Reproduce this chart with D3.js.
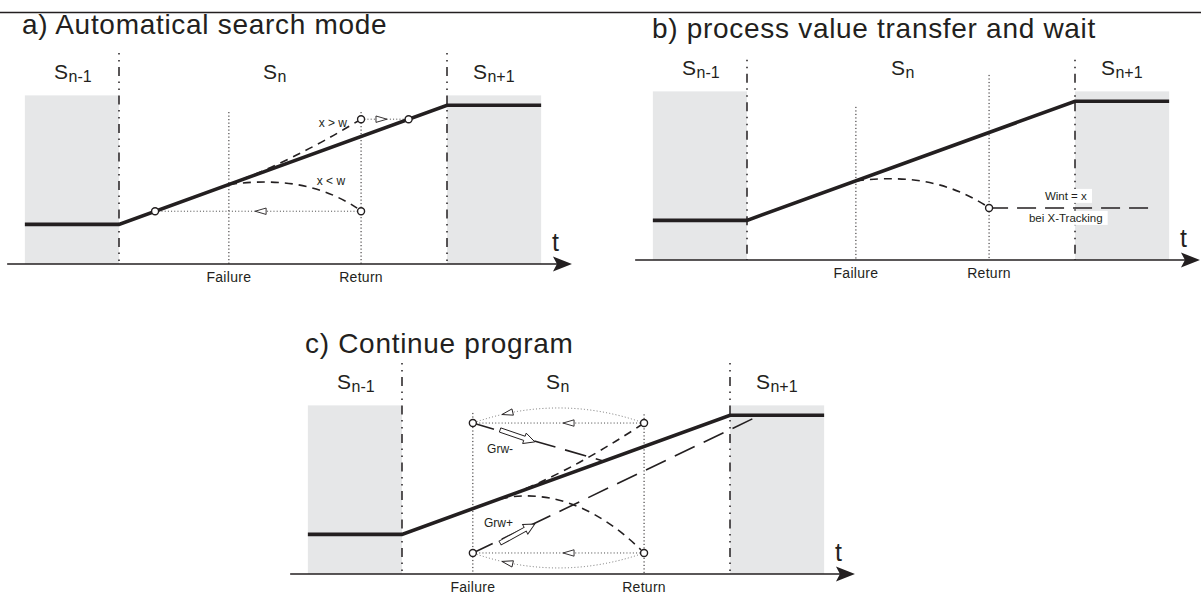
<!DOCTYPE html>
<html><head><meta charset="utf-8">
<script src="https://cdn.jsdelivr.net/npm/d3@7"></script>
<style>
body{margin:0;background:#fff}
svg{display:block}
text{font-family:"Liberation Sans",Arial,Helvetica,sans-serif;fill:#231f20}
</style>
</head><body>
<svg id="chart" width="1201" height="594"></svg>
<script>
// ---------------- data (time units: state S_n runs 0..10; value units: setpoint 20 -> 80) ----------------
const panelIds = ["a", "b", "c"];
const panelTitles = ["a) Automatical search mode", "b) process value transfer and wait", "c) Continue program"];
const stateNames = [["S", "n-1"], ["S", "n"], ["S", "n+1"]];
const stateLabelTimes = [-1.98, 4.39, 10.79];
const stateLabelValue = 93.3;
const profileTimes = [-2.87, 0, 10, 12.87];
const profileValues = [20, 20, 80, 80];
const segmentBounds = [0, 10];
const shadedSpans = [[-2.87, 0], [10, 12.87]];
const shadeTop = 85;
const axisSpan = [-3.41, 13.81];
const eventNames = ["Failure", "Return"];
const failureTimes = [3.35, 3.32, 2.16];
const returnTimes = [7.38, 7.38, 7.38];
const failureLineTops = [76.6, 77.2, 81.2];
const returnLineTops = [76.6, 93.3, 80.5];
const boundaryTops = [106.4, 101, 106.4];

// panel a
const circlesA = [[1.10, 26.6], [7.38, 26.6], [7.38, 73], [8.83, 73]];
const dottedA = [[[1.10, 26.6], [7.38, 26.6]], [[7.38, 73], [8.83, 73]]];
const dottedArrowsA = [[4.15, 26.6, -1], [8.17, 73, 1]];
const dashCurvesA = [
  [[3.35, 40.1], [5.21, 51.3], [7.29, 72.1]],
  [[3.35, 40.1], [4.91, 43.4], [6.13, 40.3], [7.26, 28.2]]
];
const notesA = [["x > w", 6.52, 69.1], ["x < w", 6.46, 39.8]];

// panel b
const circlesB = [[7.38, 26.2]];
const dashCurvesB = [[[3.32, 39.9], [4.87, 42.9], [6.09, 39.9], [7.28, 27.4]]];
const longDashB = [[[7.38, 26.2], [12.47, 26.2]]];
const boxedNotesB = [["Wint = x", 9.72, 30.3], ["bei X-Tracking", 9.72, 19.2]];

// panel c
const circlesC = [[2.16, 76.1], [7.38, 76.1], [2.16, 10.6], [7.38, 10.6]];
const dottedC = [[[2.16, 76.1], [7.38, 76.1]], [[2.16, 10.6], [7.38, 10.6]]];
const dottedArcsC = [[[7.38, 76.1], [4.77, 91.3], [2.16, 76.1]], [[7.38, 10.6], [4.77, -4.5], [2.16, 10.6]]];
const arcArrowParamC = 0.83;
const dottedArrowsC = [[4.91, 76.1, -1], [4.91, 10.6, -1]];
const dashCurvesC = [
  [[2.99, 37.9], [4.97, 49.8], [7.29, 75.1]],
  [[2.99, 37.9], [4.21, 42.4], [5.73, 37.3], [7.29, 12.1]]
];
const longDashC = [[[2.16, 76.1], [6.13, 57.0]], [[2.16, 10.6], [10.91, 80]]];
const hollowArrowsC = [[[2.99, 72.6], [4.05, 66.6]], [[2.99, 15.6], [4.05, 25.2]]];
const notesC = [["Grw-", 2.99, 61.0], ["Grw+", 2.94, 23.7]];

const panelMarks = [
  {circles: circlesA, dotted: dottedA, dottedArrows: dottedArrowsA, arcs: [], curves: dashCurvesA, longDash: [], hollow: [], notes: notesA, boxed: []},
  {circles: circlesB, dotted: [], dottedArrows: [], arcs: [], curves: dashCurvesB, longDash: longDashB, hollow: [], notes: [], boxed: boxedNotesB},
  {circles: circlesC, dotted: dottedC, dottedArrows: dottedArrowsC, arcs: dottedArcsC, curves: dashCurvesC, longDash: longDashC, hollow: hollowArrowsC, notes: notesC, boxed: []}
];

// ---------------- layout ----------------
const layout = [
  {bx: 119, ay: 264, tx: 22, ty: 34},
  {bx: 747, ay: 260, tx: 652, ty: 38},
  {bx: 402, ay: 574, tx: 305, ty: 353}
];
const INK = "#231f20";
const svg = d3.select("#chart");

svg.append("line").attr("x1", 0).attr("x2", 1201).attr("y1", 12.5).attr("y2", 12.5)
  .attr("stroke", INK).attr("stroke-width", 1.5);

function triangle(g, px, py, angle) {
  g.append("path")
    .attr("d", "M0,0 L-11,-3.2 L-11,3.2 Z")
    .attr("transform", `translate(${px},${py}) rotate(${angle})`)
    .attr("fill", "#fff").attr("stroke", INK).attr("stroke-width", 0.9);
}

panelIds.forEach((id, i) => {
  const L = layout[i];
  const M = panelMarks[i];
  const x = d3.scaleLinear().domain([0, 10]).range([L.bx, L.bx + 328]);
  const y = d3.scaleLinear().domain([0, 80]).range([L.ay, L.ay - 158.7]);
  const g = svg.append("g").attr("class", "panel-" + id);

  g.selectAll("rect.shade").data(shadedSpans).join("rect").attr("class", "shade")
    .attr("x", d => x(d[0])).attr("width", d => x(d[1]) - x(d[0]))
    .attr("y", y(shadeTop)).attr("height", y(0) - y(shadeTop))
    .attr("fill", "#e6e7e8");

  g.selectAll("line.bound").data(segmentBounds).join("line").attr("class", "bound")
    .attr("x1", d => x(d)).attr("x2", d => x(d))
    .attr("y1", y(boundaryTops[i])).attr("y2", y(0))
    .attr("stroke", INK).attr("stroke-width", 1.5)
    .attr("stroke-dasharray", "1.5,5.5,1.5,5.5,9,5.5");

  const ev = [[failureTimes[i], failureLineTops[i]], [returnTimes[i], returnLineTops[i]]];
  g.selectAll("line.ev").data(ev).join("line").attr("class", "ev")
    .attr("x1", d => x(d[0])).attr("x2", d => x(d[0]))
    .attr("y1", d => y(d[1])).attr("y2", y(0))
    .attr("stroke", INK).attr("stroke-width", 1).attr("stroke-dasharray", "1.2,2.3");
  g.selectAll("text.ev").data(ev).join("text").attr("class", "ev")
    .attr("x", d => x(d[0])).attr("y", y(0) + 18)
    .attr("text-anchor", "middle").attr("font-size", 14).attr("letter-spacing", 0.3)
    .text((d, k) => eventNames[k]);

  g.append("line").attr("x1", x(axisSpan[0])).attr("x2", x(axisSpan[1]) - 8)
    .attr("y1", y(0)).attr("y2", y(0)).attr("stroke", INK).attr("stroke-width", 1.5);
  const tip = x(axisSpan[1]), ay = y(0);
  g.append("path")
    .attr("d", `M${tip},${ay} L${tip - 19},${ay - 7.5} L${tip - 15},${ay} L${tip - 19},${ay + 7.5} Z`)
    .attr("fill", INK);
  g.append("text").attr("x", L.bx + 433).attr("y", L.ay - 13)
    .attr("font-size", 25).text("t");

  M.dotted.forEach(seg => {
    g.append("line").attr("x1", x(seg[0][0])).attr("y1", y(seg[0][1]))
      .attr("x2", x(seg[1][0])).attr("y2", y(seg[1][1]))
      .attr("stroke", "#444").attr("stroke-width", 1).attr("stroke-dasharray", "1,2.2");
  });
  M.arcs.forEach(a => {
    const p = d3.path();
    p.moveTo(x(a[0][0]), y(a[0][1]));
    p.quadraticCurveTo(x(a[1][0]), y(a[1][1]), x(a[2][0]), y(a[2][1]));
    g.append("path").attr("d", p.toString()).attr("fill", "none")
      .attr("stroke", "#666").attr("stroke-width", 0.9).attr("stroke-dasharray", "1,2.2");
    const s = arcArrowParamC;
    const P = a.map(q => [x(q[0]), y(q[1])]);
    const bx = (1 - s) * (1 - s) * P[0][0] + 2 * s * (1 - s) * P[1][0] + s * s * P[2][0];
    const by = (1 - s) * (1 - s) * P[0][1] + 2 * s * (1 - s) * P[1][1] + s * s * P[2][1];
    const dx = 2 * (1 - s) * (P[1][0] - P[0][0]) + 2 * s * (P[2][0] - P[1][0]);
    const dy = 2 * (1 - s) * (P[1][1] - P[0][1]) + 2 * s * (P[2][1] - P[1][1]);
    triangle(g, bx, by, Math.atan2(dy, dx) * 180 / Math.PI);
  });
  M.dottedArrows.forEach(d => triangle(g, x(d[0]), y(d[1]), d[2] > 0 ? 0 : 180));

  M.curves.forEach(c => {
    const p = d3.path();
    p.moveTo(x(c[0][0]), y(c[0][1]));
    if (c.length === 3) p.quadraticCurveTo(x(c[1][0]), y(c[1][1]), x(c[2][0]), y(c[2][1]));
    else p.bezierCurveTo(x(c[1][0]), y(c[1][1]), x(c[2][0]), y(c[2][1]), x(c[3][0]), y(c[3][1]));
    g.append("path").attr("d", p.toString()).attr("fill", "none")
      .attr("stroke", INK).attr("stroke-width", 1.6).attr("stroke-dasharray", "8,6");
  });
  M.longDash.forEach(seg => {
    g.append("line").attr("x1", x(seg[0][0])).attr("y1", y(seg[0][1]))
      .attr("x2", x(seg[1][0])).attr("y2", y(seg[1][1]))
      .attr("stroke", INK).attr("stroke-width", 1.6).attr("stroke-dasharray", i === 1 ? "19,9" : "22,10");
  });

  M.boxed.forEach(n => {
    const t = g.append("text").attr("x", x(n[1])).attr("y", y(n[2]))
      .attr("text-anchor", "middle").attr("font-size", 11.5).text(n[0]);
    const bb = t.node().getBBox();
    g.insert("rect", () => t.node())
      .attr("x", bb.x - 3).attr("y", bb.y - 1).attr("width", bb.width + 8).attr("height", bb.height + 2)
      .attr("fill", "#fff");
  });

  const line = d3.line().x(d => x(d[0])).y(d => y(d[1]));
  g.append("path").attr("d", line(profileTimes.map((t, k) => [t, profileValues[k]])))
    .attr("fill", "none").attr("stroke", INK).attr("stroke-width", 3.6).attr("stroke-linejoin", "miter");

  M.hollow.forEach(h => {
    const x1 = x(h[0][0]), y1 = y(h[0][1]), x2 = x(h[1][0]), y2 = y(h[1][1]);
    const len = Math.hypot(x2 - x1, y2 - y1), ang = Math.atan2(y2 - y1, x2 - x1) * 180 / Math.PI;
    const hl = 11, sw = 2.2, hw = 5.5;
    g.append("path")
      .attr("d", `M0,${-sw} L${len - hl},${-sw} L${len - hl},${-hw} L${len},0 L${len - hl},${hw} L${len - hl},${sw} L0,${sw} Z`)
      .attr("transform", `translate(${x1},${y1}) rotate(${ang})`)
      .attr("fill", "#fff").attr("stroke", INK).attr("stroke-width", 0.9);
  });

  M.notes.forEach(n => {
    g.append("text").attr("x", x(n[1])).attr("y", y(n[2]))
      .attr("text-anchor", "middle").attr("font-size", 12).attr("fill", "#333").text(n[0]);
  });

  g.selectAll("circle").data(M.circles).join("circle")
    .attr("cx", d => x(d[0])).attr("cy", d => y(d[1])).attr("r", 3.5)
    .attr("fill", "#fff").attr("stroke", INK).attr("stroke-width", 1.4);

  stateNames.forEach((s, k) => {
    const t = g.append("text").attr("x", x(stateLabelTimes[k])).attr("y", y(stateLabelValue))
      .attr("font-size", 21);
    t.append("tspan").text(s[0]);
    t.append("tspan").attr("font-size", 16).attr("dy", 3.5).attr("dx", 0.5).text(s[1]);
  });

  g.append("text").attr("x", L.tx).attr("y", L.ty).attr("font-size", 28)
    .attr("letter-spacing", 0.7).text(panelTitles[i]);
});
</script>
</body></html>
